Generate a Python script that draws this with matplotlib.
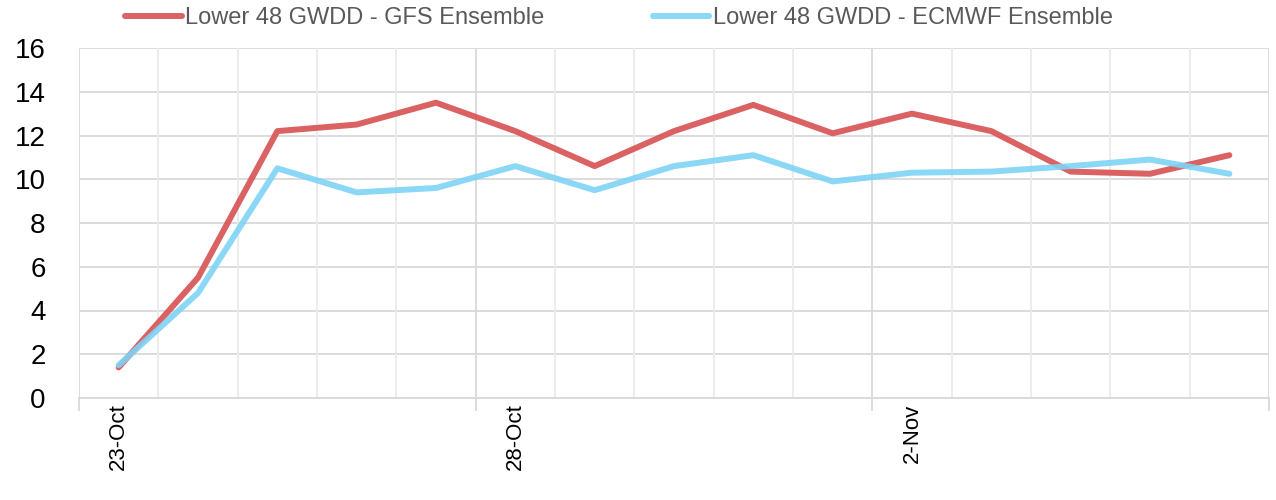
import matplotlib
matplotlib.use("Agg")
import matplotlib.pyplot as plt
from matplotlib.ticker import MultipleLocator

plt.rcParams['font.family'] = ['Liberation Sans', 'DejaVu Sans']

dates = ["23-Oct", "24-Oct", "25-Oct", "26-Oct", "27-Oct", "28-Oct", "29-Oct", "30-Oct",
         "31-Oct", "1-Nov", "2-Nov", "3-Nov", "4-Nov", "5-Nov", "6-Nov"]
gfs = [1.4, 5.5, 12.2, 12.5, 13.5, 12.2, 10.6, 12.2, 13.4, 12.1, 13.0, 12.2, 10.35, 10.25, 11.1]
ecmwf = [1.5, 4.8, 10.5, 9.4, 9.6, 10.6, 9.5, 10.6, 11.1, 9.9, 10.3, 10.35, 10.6, 10.9, 10.25]
label_every = 5

fig = plt.figure(figsize=(12.76, 5), dpi=100)
ax = fig.add_axes([79/1276, 1 - 398/500, (1269 - 79)/1276, 350/500])

x = list(range(len(dates)))
ax.plot(x, gfs, color='#D9595B', lw=4.3, alpha=0.95, solid_capstyle='round',
        label='Lower 48 GWDD - GFS Ensemble', zorder=3)
ax.plot(x, ecmwf, color='#7FD3F5', lw=4.3, alpha=0.9, solid_capstyle='round',
        label='Lower 48 GWDD - ECMWF Ensemble', zorder=4)

n = len(dates)
ax.set_xlim(-0.5, n - 0.5)
ax.set_ylim(0, 16)
ax.yaxis.set_major_locator(MultipleLocator(2))

# gridlines at category boundaries
for b in range(n + 1):
    major = (b % label_every == 0)
    ax.axvline(b - 0.5, color='#D9D9D9' if major else '#EBEBEB', lw=1.3, zorder=1)
ax.yaxis.grid(True, color='#D9D9D9', lw=1.3, zorder=1)
ax.set_axisbelow(True)

label_pos = [i for i in x if i % label_every == 0]
ax.set_xticks(label_pos)
ax.set_xticklabels([dates[i] for i in label_pos], rotation=90, fontsize=16, color='black')
ax.tick_params(axis='x', length=0, pad=4)
ax.tick_params(axis='y', length=0, labelsize=20, pad=24)

# major tick marks below axis at boundaries
for b in range(0, n + 1, label_every):
    ax.plot([b - 0.5, b - 0.5], [0, -0.55], color='#D9D9D9', lw=1.3, clip_on=False, zorder=1)

for s in ['top', 'right', 'left']:
    ax.spines[s].set_visible(False)
ax.spines['bottom'].set_color('#D9D9D9')
ax.spines['bottom'].set_linewidth(1.3)

fig.legend(loc='center', bbox_to_anchor=(0.485, 1 - 18/500), ncol=2, frameon=False,
           fontsize=17, labelcolor='#595959', handlelength=2.4, handletextpad=0.13,
           columnspacing=4.6, borderpad=0, borderaxespad=0)

fig.savefig('out.png', dpi=100)
